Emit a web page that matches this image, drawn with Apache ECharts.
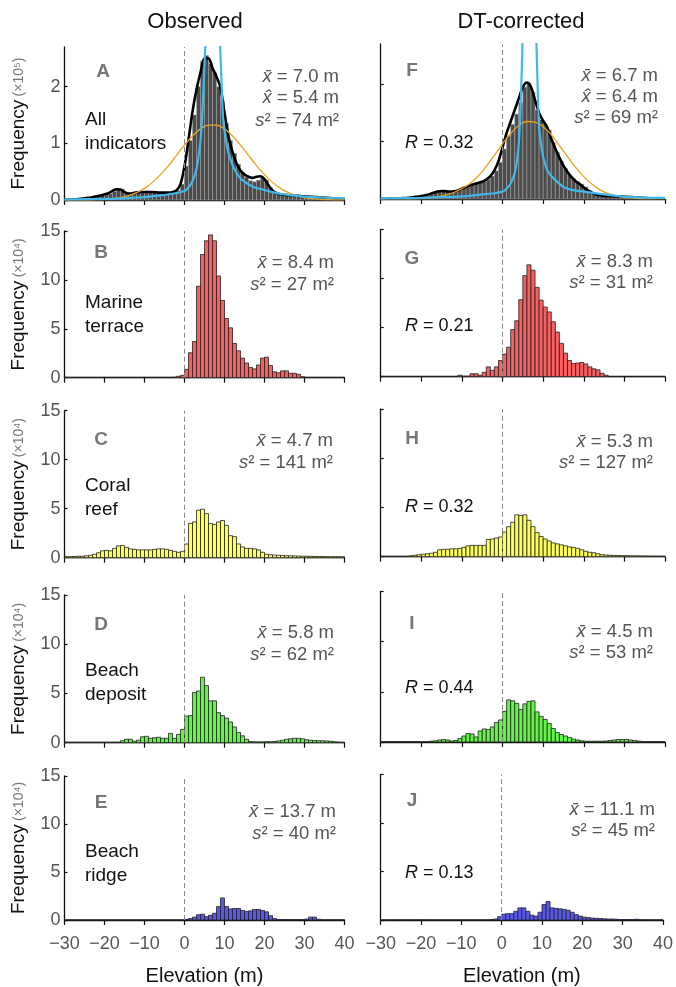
<!DOCTYPE html>
<html><head><meta charset="utf-8">
<script src="https://cdn.jsdelivr.net/npm/echarts@6/dist/echarts.min.js"></script>
<style>html,body{margin:0;padding:0;background:#fff}#c{width:676px;height:987px}</style>
</head><body><div id="c"></div>
<script>
// ---------- DATA ----------
const binStart = [-30,-29,-28,-27,-26,-25,-24,-23,-22,-21,-20,-19,-18,-17,-16,-15,-14,-13,-12,-11,-10,-9,-8,-7,-6,-5,-4,-3,-2,-1,0,1,2,3,4,5,6,7,8,9,10,11,12,13,14,15,16,17,18,19,20,21,22,23,24,25,26,27,28,29,30,31,32,33,34,35,36,37,38,39];
const xTicks = [-30,-20,-10,0,10,20,30,40];

// Observed (A in x10^5, B-E in x10^4)
const obsA = [0.003,0.005,0.008,0.012,0.018,0.025,0.035,0.05,0.06,0.08,
  0.09,0.11,0.15,0.19,0.19,0.14,0.11,0.12,0.14,0.14,
  0.14,0.14,0.14,0.14,0.13,0.13,0.13,0.14,0.17,0.28,
  0.60,1.05,1.50,2.00,2.45,2.55,2.40,2.25,2.00,1.75,
  1.35,1.05,0.82,0.63,0.49,0.40,0.34,0.32,0.35,0.39,
  0.35,0.22,0.15,0.11,0.10,0.09,0.09,0.08,0.07,0.07,
  0.06,0.06,0.05,0.05,0.04,0.04,0.03,0.03,0.02,0.02];
const obsB = [0.03,0.03,0.03,0.03,0.03,0.03,0.03,0.03,0.03,0.03,
  0.03,0.03,0.03,0.03,0.03,0.03,0.03,0.03,0.03,0.03,
  0.03,0.03,0.03,0.03,0.03,0.03,0.03,0.05,0.15,0.25,
  0.85,2.55,3.7,9.35,12.6,14.0,14.6,14.0,10.4,7.9,
  6.05,5.1,3.5,2.75,2.0,1.5,1.05,0.9,1.3,2.0,
  2.1,1.25,0.6,0.5,0.7,0.7,0.45,0.45,0.35,0.1,
  0.03,0.03,0.03,0.03,0.03,0.03,0.03,0.03,0.03,0.03];
const obsC = [0.1,0.1,0.12,0.15,0.15,0.2,0.25,0.35,0.5,0.7,
  0.75,0.7,0.95,1.2,1.25,1.05,0.9,0.85,0.8,0.8,
  0.8,0.8,0.85,0.9,0.9,0.85,0.75,0.65,0.55,0.65,
  1.4,3.5,3.65,4.85,4.95,4.5,3.5,3.4,3.65,3.8,
  3.3,2.25,2.15,1.4,1.1,0.95,0.95,0.9,0.8,0.55,
  0.35,0.3,0.27,0.25,0.22,0.2,0.2,0.18,0.17,0.15,
  0.15,0.14,0.13,0.12,0.12,0.11,0.1,0.1,0.1,0.1];
const obsD = [0.04,0.04,0.04,0.04,0.04,0.04,0.04,0.04,0.04,0.04,
  0.04,0.04,0.04,0.05,0.2,0.35,0.35,0.15,0.25,0.6,
  0.65,0.45,0.5,0.55,0.45,0.45,0.95,0.45,0.85,1.35,
  2.7,2.75,5.1,5.25,6.65,5.8,4.25,4.25,3.05,2.75,
  2.5,2.1,1.6,1.05,0.7,0.35,0.12,0.08,0.08,0.08,
  0.1,0.1,0.12,0.18,0.25,0.35,0.4,0.45,0.45,0.4,
  0.3,0.25,0.22,0.2,0.2,0.18,0.15,0.1,0.05,0.03];
const obsE = [0.02,0.02,0.02,0.02,0.02,0.02,0.02,0.02,0.02,0.02,
  0.02,0.02,0.02,0.02,0.02,0.02,0.02,0.02,0.02,0.02,
  0.02,0.02,0.02,0.02,0.02,0.02,0.02,0.02,0.02,0.02,
  0.05,0.15,0.3,0.55,0.6,0.35,0.5,0.7,1.4,2.3,
  1.4,1.15,1.2,1.2,1.0,0.9,0.95,1.1,1.1,1.0,
  0.85,0.45,0.15,0.05,0.05,0.05,0.05,0.05,0.05,0.05,
  0.1,0.3,0.3,0.08,0.03,0.03,0.03,0.03,0.03,0.03];

// DT-corrected (F in x10^5, G-J in x10^4)
const dtF = [0.003,0.004,0.005,0.007,0.01,0.013,0.017,0.022,0.03,0.04,
  0.05,0.07,0.09,0.12,0.14,0.14,0.13,0.13,0.14,0.16,
  0.2,0.22,0.25,0.27,0.28,0.31,0.34,0.4,0.49,0.64,
  0.87,1.1,1.3,1.48,1.68,1.95,2.02,1.86,1.55,1.38,
  1.3,1.2,0.98,0.81,0.66,0.53,0.42,0.35,0.3,0.26,
  0.21,0.15,0.11,0.08,0.06,0.05,0.045,0.045,0.04,0.04,
  0.04,0.035,0.03,0.025,0.02,0.015,0.012,0.01,0.008,0.006];
const dtG = [0.02,0.02,0.02,0.02,0.02,0.02,0.02,0.02,0.02,0.02,
  0.02,0.02,0.02,0.02,0.02,0.02,0.02,0.02,0.02,0.15,
  0.05,0.05,0.3,0.3,0.15,0.45,1.0,0.65,1.0,1.65,
  2.3,3.0,4.8,5.7,7.85,10.3,11.4,10.85,9.1,7.8,
  7.1,6.6,5.6,4.55,3.4,2.4,1.65,1.35,1.4,1.45,
  1.3,1.0,0.8,0.7,0.35,0.15,0.02,0.02,0.02,0.02,
  0.02,0.02,0.02,0.02,0.02,0.02,0.02,0.02,0.02,0.02];
const dtH = [0.03,0.03,0.03,0.03,0.03,0.03,0.03,0.1,0.15,0.2,
  0.25,0.3,0.35,0.45,0.7,0.75,0.75,0.8,0.8,0.85,
  0.95,1.1,1.15,1.15,1.15,1.15,1.75,1.8,1.9,2.0,
  2.5,3.05,3.5,4.25,4.2,4.25,3.7,3.05,2.45,2.05,
  1.8,1.6,1.4,1.3,1.2,1.1,1.0,0.95,0.85,0.7,
  0.55,0.45,0.4,0.3,0.2,0.17,0.15,0.13,0.12,0.1,
  0.1,0.09,0.08,0.08,0.07,0.06,0.05,0.05,0.04,0.04];
const dtI = [0.04,0.04,0.04,0.04,0.04,0.04,0.04,0.04,0.04,0.04,
  0.04,0.04,0.08,0.12,0.2,0.25,0.2,0.1,0.15,0.35,
  0.6,0.85,0.8,0.5,1.1,1.3,1.25,1.5,1.95,2.2,
  3.05,4.2,4.1,3.85,3.25,3.8,4.05,4.1,3.0,2.55,
  2.25,1.85,1.35,0.95,0.75,0.6,0.45,0.3,0.2,0.12,
  0.08,0.08,0.08,0.08,0.08,0.1,0.15,0.2,0.25,0.25,
  0.25,0.2,0.15,0.1,0.06,0.05,0.05,0.04,0.04,0.03];
const dtJ = [0.02,0.02,0.02,0.02,0.02,0.02,0.02,0.02,0.02,0.02,
  0.02,0.02,0.02,0.02,0.02,0.02,0.02,0.02,0.02,0.02,
  0.02,0.02,0.02,0.02,0.02,0.02,0.02,0.05,0.1,0.35,
  0.6,0.65,0.65,0.9,1.25,1.25,0.9,0.5,0.4,0.8,
  1.6,1.9,1.25,1.2,1.15,1.1,1.0,0.8,0.55,0.4,
  0.3,0.25,0.2,0.18,0.15,0.12,0.1,0.1,0.08,0.05,
  0.05,0.05,0.05,0.08,0.03,0.02,0.02,0.02,0.02,0.02];

// smoothed density outline (x10^5), at whole metres -30..40
const kdeX = [-30,-29,-28,-27,-26,-25,-24,-23,-22,-21,-20,-19,-18,-17,-16,-15,-14,-13,-12,-11,-10,-9,-8,-7,-6,-5,-4,-3,-2,-1,0,1,2,3,4,5,6,7,8,9,10,11,12,13,14,15,16,17,18,19,20,21,22,23,24,25,26,27,28,29,30,31,32,33,34,35,36,37,38,39,40];
const kdeA = [0.005,0.007,0.01,0.014,0.02,0.028,0.038,0.05,0.065,0.08,
  0.10,0.12,0.16,0.19,0.185,0.14,0.115,0.12,0.135,0.14,
  0.14,0.14,0.14,0.135,0.13,0.13,0.13,0.14,0.17,0.28,
  0.59,1.06,1.56,1.95,2.25,2.5,2.5,2.33,2.18,1.98,
  1.54,1.12,0.85,0.65,0.52,0.45,0.41,0.39,0.41,0.42,
  0.37,0.26,0.17,0.12,0.1,0.09,0.085,0.08,0.075,0.07,
  0.065,0.06,0.055,0.05,0.045,0.04,0.035,0.03,0.025,0.02,0.015];
const kdeF = [0.003,0.004,0.005,0.007,0.01,0.013,0.017,0.022,0.03,0.04,
  0.05,0.065,0.085,0.11,0.13,0.14,0.135,0.13,0.135,0.15,
  0.18,0.21,0.24,0.26,0.28,0.3,0.34,0.4,0.5,0.66,
  0.9,1.15,1.35,1.55,1.75,1.95,2.03,1.95,1.72,1.5,
  1.36,1.25,1.05,0.88,0.72,0.58,0.47,0.38,0.31,0.26,
  0.2,0.15,0.11,0.08,0.065,0.055,0.05,0.048,0.046,0.044,
  0.04,0.036,0.032,0.027,0.022,0.017,0.013,0.01,0.008,0.006,0.004];

// normal fit (orange), every 2 m
const normX = [-30,-28,-26,-24,-22,-20,-18,-16,-14,-12,-10,-8,-6,-4,-2,0,2,4,6,8,10,12,14,16,18,20,22,24,26,28,30,32,34,36,38,40];
const normA = [0.0002,0.0005,0.0012,0.0027,0.0058,0.012,0.024,0.043,0.077,0.129,0.205,0.311,0.448,0.608,0.788,0.969,1.13,1.255,1.321,1.321,1.255,1.13,0.969,0.788,0.608,0.448,0.311,0.205,0.129,0.077,0.043,0.024,0.012,0.0058,0.0027,0.0012];
const normF = [0.0003,0.0006,0.0013,0.0028,0.0058,0.011,0.021,0.039,0.068,0.113,0.18,0.27,0.4,0.57,0.76,0.96,1.14,1.28,1.35,1.34,1.26,1.12,0.93,0.74,0.55,0.39,0.26,0.16,0.095,0.053,0.028,0.014,0.0065,0.0029,0.0012,0.0005];

// heavy-tailed fit (blue)
const blueAX = [-30,-25,-20,-15,-10,-6,-3,0,1,2,3,4,4.5,5,5.5,6,6.5,7.1,7.7,8.2,8.7,9.2,9.7,10.5,11,12,13,14,15.5,17,19.7,22,25,30,35,40];
const blueAY = [0.01,0.015,0.02,0.03,0.05,0.08,0.11,0.16,0.22,0.33,0.55,1.05,1.6,2.4,3.2,4.2,5.0,5.5,5.0,4.2,3.1,2.2,1.4,1.0,0.83,0.62,0.48,0.38,0.3,0.24,0.18,0.14,0.1,0.06,0.04,0.03];
const blueFX = [-30,-20,-10,-5,-2,0,1,2,3,3.5,4,4.5,4.9,5.3,5.8,6.6,7.4,7.9,8.35,8.7,9,9.5,10,11,12,13,15,17,20,25,30,35,40];
const blueFY = [0.01,0.02,0.045,0.08,0.1,0.13,0.18,0.27,0.45,0.65,0.96,1.7,2.7,3.8,4.8,5.4,4.8,3.8,2.7,1.8,1.25,0.95,0.73,0.5,0.4,0.33,0.21,0.16,0.13,0.08,0.04,0.025,0.02];

// annotations
const panelLetters = ['A','B','C','D','E','F','G','H','I','J'];
const indicatorNames = [['All','indicators'],['Marine','terrace'],['Coral','reef'],['Beach','deposit'],['Beach','ridge']];
const meanVals = ['7.0','8.4','4.7','5.8','13.7','6.7','8.3','5.3','4.5','11.1'];
const modeVals = ['5.4',null,null,null,null,'6.4',null,null,null,null];
const varVals = ['74','27','141','62','40','69','31','127','53','45'];
const rVals = ['0.32','0.21','0.32','0.44','0.13'];
const columnTitles = ['Observed','DT-corrected'];

// ---------- LAYOUT / STYLE ----------
const FONT = 'Liberation Sans, Arial, sans-serif';
const layout = [
  {left:64.5, top:47, width:280, height:153},
  {left:64.5, top:231, width:280, height:146.7},
  {left:64.5, top:410.7, width:280, height:147},
  {left:64.5, top:595, width:280, height:147.7},
  {left:64.5, top:776, width:280, height:147.7},
  {left:380.7, top:44, width:284.3, height:155},
  {left:380.7, top:229.5, width:284.3, height:147.2},
  {left:380.7, top:409, width:284.3, height:147.7},
  {left:380.7, top:591.5, width:284.3, height:150.5},
  {left:380.7, top:774.5, width:284.3, height:148.5}
];
const barData = [obsA,obsB,obsC,obsD,obsE,dtF,dtG,dtH,dtI,dtJ];
const barFill = ['#4b4b4b','#fa5e5e','#ffff5c','#62f644','#5757ec','#4b4b4b','#fa5e5e','#ffff5c','#62f644','#5757ec'];
const barEdge = ['#a0a0a0','#222','#222','#222','#222','#a0a0a0','#222','#222','#222','#222'];
const letterPos = [[103,72],[101,253],[101,440],[101,625],[101,803],[412,71],[412,259],[412,439],[412,624],[412,801]];
const namePos = [[85,132],[85,315],[85,498],[85,683],[85,864]];
const statRight = [339,334,333,334,336,658,653,653,653,655];
const statY = [[77,98,121],[263,285],[441,463],[633,655],[812,834],[76,97,118],[262,283],[442,463],[632,653],[810,831]];
const rPos = [[405,143],[405,326],[405,507],[405,688],[405,873]];

const grids = [], xAxes = [], yAxes = [], series = [];
for (let i = 0; i < 10; i++) {
  const L = layout[i];
  const leftCol = i < 5, bottom = (i === 4 || i === 9), big = (i === 0 || i === 5);
  grids.push({left:L.left, top:L.top, width:L.width, height:L.height, containLabel:false});
  xAxes.push({
    type:'value', gridIndex:i, min:-30, max:40, interval:10,
    axisLine:{show:true, onZero:false, lineStyle:{color:'#111', width:1.3}},
    axisTick:{show:true, length:5, inside:false, lineStyle:{color:'#111', width:1.2}},
    axisLabel:{show:bottom, color:'#555', fontSize:18, fontFamily:FONT, margin:15,
      formatter: v => v < 0 ? '\u2212' + Math.abs(v) : String(v)},
    splitLine:{show:false},
    name: bottom ? 'Elevation (m)' : '', nameLocation:'middle', nameGap:46,
    nameTextStyle:{color:'#111', fontSize:20, fontFamily:FONT}
  });
  const ticks = big ? [0,1,2] : [0,5,10,15];
  yAxes.push({
    type:'value', gridIndex:i, min:0, max: big ? 2.7 : 15,
    axisLine:{show:true, onZero:false, lineStyle:{color:'#111', width:1.3}},
    axisTick:{show:true, length:3, inside:true, customValues:ticks, lineStyle:{color:'#111', width:1.2}},
    axisLabel:{show:leftCol, customValues:ticks, color:'#555', fontSize:18, fontFamily:FONT, margin:4},
    splitLine:{show:false},
    name: leftCol ? (big ? '{f|Frequency} {u|(\u00d710\u2075)}' : '{f|Frequency} {u|(\u00d710\u2074)}') : '',
    nameLocation:'middle', nameGap:36,
    nameTextStyle:{fontFamily:FONT, rich:{f:{fontSize:19, color:'#111', fontFamily:FONT}, u:{fontSize:14, color:'#777', fontFamily:FONT}}}
  });
  const fill = barFill[i], edge = barEdge[i], vals = barData[i];
  series.push({
    type:'custom', xAxisIndex:i, yAxisIndex:i, silent:true, z:2,
    data: binStart.map((b,k) => [b, vals[k]]),
    encode:{x:0, y:1},
    renderItem: (params, api) => {
      const b = api.value(0), v = api.value(1);
      const p0 = api.coord([b, 0]), p1 = api.coord([b + 1, v]);
      return {type:'rect', shape:{x:p0[0], y:p1[1], width:p1[0]-p0[0], height:p0[1]-p1[1]},
        style:{fill:fill, stroke:edge, lineWidth: big ? 0.6 : 0.8}};
    }
  });
  // zero-elevation dashed line
  series.push({
    type:'line', xAxisIndex:i, yAxisIndex:i, data:[], silent:true, z:1,
    markLine:{silent:true, symbol:'none', label:{show:false}, animation:false,
      lineStyle:{type:[5,3], color:'#8a8a8a', width:1}, data:[{xAxis:0}]}
  });
}
function lineSeries(idx, xs, ys, color, width, z, smooth) {
  return {type:'line', xAxisIndex:idx, yAxisIndex:idx, data: xs.map((x,k)=>[x, ys[k]]),
    showSymbol:false, symbol:'none', smooth:smooth, clip:true, silent:true, z:z,
    lineStyle:{color:color, width:width}};
}
series.push(lineSeries(0, kdeX, kdeA, '#000', 2.6, 3, 0.3));
series.push(lineSeries(5, kdeX, kdeF, '#000', 2.6, 3, 0.3));
series.push(lineSeries(0, normX, normA, '#eaa020', 1.3, 4, 0.4));
series.push(lineSeries(5, normX, normF, '#eaa020', 1.3, 4, 0.4));
series.push(lineSeries(0, blueAX, blueAY, '#41b8ec', 2.2, 5, 0.25));
series.push(lineSeries(5, blueFX, blueFY, '#41b8ec', 2.2, 5, 0.25));

// ---------- TEXT ----------
const graphic = [];
const ital = {fontStyle:'italic', fontFamily:FONT};
function addText(x, y, text, o) {
  graphic.push({type:'text', x:x, y:y, silent:true, z:10, style:Object.assign({
    text:text, font:'18px ' + FONT, fill:'#111', align:'left', verticalAlign:'middle'}, o || {})});
}
addText(195, 22, columnTitles[0], {font:'22px ' + FONT, align:'center'});
addText(521, 22, columnTitles[1], {font:'22px ' + FONT, align:'center'});
for (let i = 0; i < 10; i++) {
  addText(letterPos[i][0], letterPos[i][1], panelLetters[i], {font:'bold 19px ' + FONT, fill:'#777', align:'center'});
  const lines = ['{i|x\u0304} = ' + meanVals[i] + ' m'];
  if (modeVals[i]) lines.push('{i|x\u0302} = ' + modeVals[i] + ' m');
  lines.push('{i|s}\u00b2 = ' + varVals[i] + ' m\u00b2');
  lines.forEach((t, k) => addText(statRight[i], statY[i][k], t,
    {font:'18.5px ' + FONT, fill:'#555', align:'right', rich:{i:Object.assign({fontSize:18.5, fill:'#555'}, ital)}}));
}
for (let r = 0; r < 5; r++) {
  addText(namePos[r][0], namePos[r][1], indicatorNames[r].join('\n'), {font:'19px ' + FONT, lineHeight:24, fill:'#111'});
  addText(rPos[r][0], rPos[r][1], '{i|R} = ' + rVals[r], {font:'18px ' + FONT, fill:'#111', rich:{i:Object.assign({fontSize:18, fill:'#111'}, ital)}});
}

const chart = echarts.init(document.getElementById('c'), null, {renderer:'canvas'});
chart.setOption({
  animation:false, backgroundColor:'#fff',
  textStyle:{fontFamily:FONT},
  grid:grids, xAxis:xAxes, yAxis:yAxes, series:series, graphic:graphic
});
</script></body></html>
